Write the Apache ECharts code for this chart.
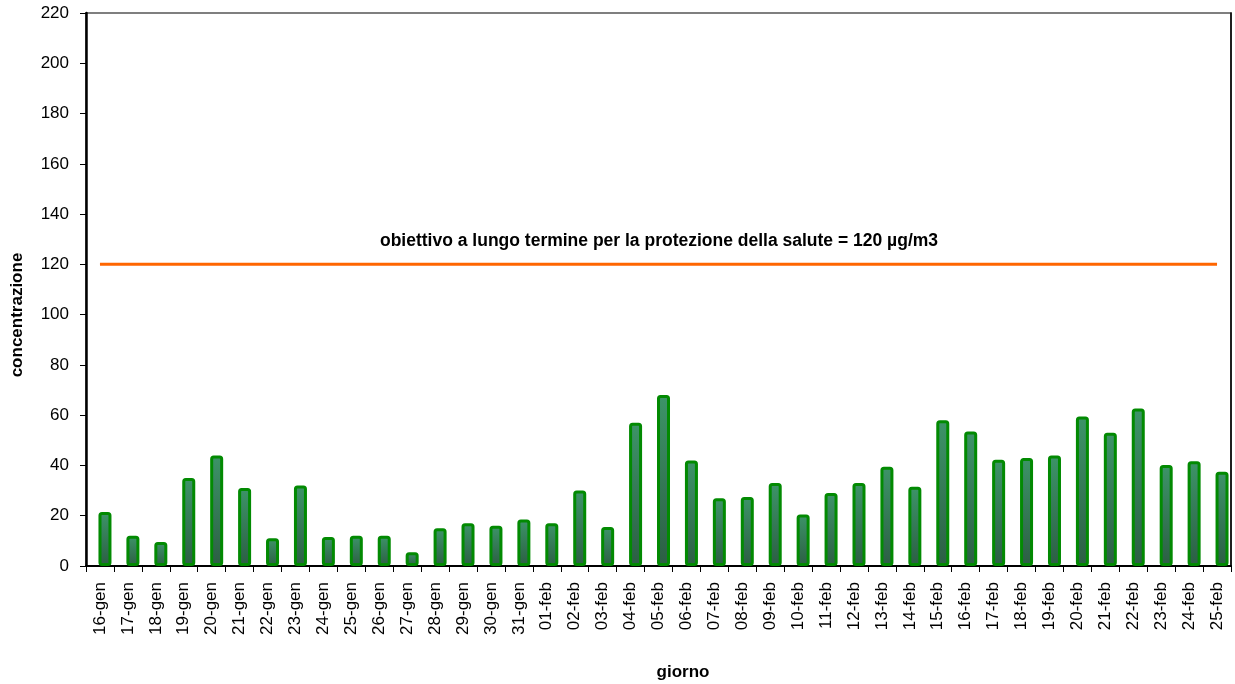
<!DOCTYPE html>
<html>
<head>
<meta charset="utf-8">
<script src="https://cdn.jsdelivr.net/npm/echarts@6/dist/echarts.min.js"></script>
<style>
  html, body { margin: 0; padding: 0; background: #fff; }
  #chart { width: 1235px; height: 684px; }
</style>
</head>
<body>
<div id="chart"></div>
<script>
// giorni
var days = ['16-gen','17-gen','18-gen','19-gen','20-gen','21-gen','22-gen','23-gen','24-gen','25-gen',
    '26-gen','27-gen','28-gen','29-gen','30-gen','31-gen','01-feb','02-feb','03-feb','04-feb',
    '05-feb','06-feb','07-feb','08-feb','09-feb','10-feb','11-feb','12-feb','13-feb','14-feb',
    '15-feb','16-feb','17-feb','18-feb','19-feb','20-feb','21-feb','22-feb','23-feb','24-feb','25-feb'];
// concentrazione giornaliera
var conc = [21.5, 12, 9.5, 35, 44, 31, 11, 32, 11.5, 12,
    12, 5.5, 15, 17, 16, 18.5, 17, 30, 15.5, 57,
    68, 42, 27, 27.5, 33, 20.5, 29, 33, 39.5, 31.5,
    58, 53.5, 42.3, 43, 44, 59.5, 53, 62.7, 40.2, 41.7, 37.5];
var limit = 120;
var limit_arr = days.map(function () { return limit; });
var empty_arr = days.map(function () { return null; });
var y_ticks = [0, 220, 20];

var font = 'Liberation Sans, Arial, sans-serif';
var myChart = echarts.init(document.getElementById('chart'));
var option = {
    backgroundColor: '#fff',
    animation: false,
    grid: {
        left: 86,
        right: 4,
        top: 13,
        bottom: 118,
        show: true,
        borderColor: '#555',
        borderWidth: 1.5,
        backgroundColor: 'transparent'
    },
    xAxis: {
        type: 'category',
        data: days,
        boundaryGap: true,
        axisLine: { lineStyle: { color: '#000', width: 2 } },
        axisTick: { show: true, alignWithLabel: false, length: 6, lineStyle: { color: '#000', width: 1 } },
        axisLabel: {
            interval: 0,
            rotate: 90,
            margin: 16,
            color: '#000',
            fontSize: 17,
            fontFamily: font
        }
    },
    yAxis: [{
        type: 'value',
        min: y_ticks[0],
        max: y_ticks[1],
        interval: y_ticks[2],
        axisLine: { show: true, lineStyle: { color: '#000', width: 2.5 } },
        axisTick: { show: true, length: 6, lineStyle: { color: '#000', width: 1 } },
        splitLine: { show: false },
        axisLabel: {
            color: '#000',
            fontSize: 17,
            fontFamily: font,
            margin: 17
        }
    }, {
        type: 'value',
        position: 'right',
        min: y_ticks[0],
        max: y_ticks[1],
        interval: y_ticks[2],
        axisLine: { show: true, lineStyle: { color: '#000', width: 1.5 } },
        axisTick: { show: false },
        axisLabel: { show: false },
        splitLine: { show: false }
    }],
    series: [{
        // posto vuoto: sposta le barre a destra come nell'originale
        type: 'bar',
        data: empty_arr,
        barWidth: 13,
        silent: true
    }, {
        type: 'bar',
        data: conc,
        barWidth: 13,
        barGap: '-23%',
        itemStyle: {
            color: new echarts.graphic.LinearGradient(0, 0, 0, 1, [
                { offset: 0, color: '#3d9468' },
                { offset: 1, color: '#2c5e44' }
            ]),
            borderColor: '#028a02',
            borderWidth: 3,
            borderRadius: 2
        }
    }, {
        type: 'line',
        data: limit_arr,
        symbol: 'none',
        lineStyle: { color: '#ff6600', width: 3 },
        z: 5
    }],
    graphic: [{
        type: 'text',
        x: 659,
        y: 241,
        style: {
            text: 'obiettivo a lungo termine per la protezione della salute = 120 µg/m3',
            fontSize: 17.5,
            fontWeight: 'bold',
            fontFamily: font,
            fill: '#000',
            align: 'center',
            verticalAlign: 'middle'
        }
    }, {
        type: 'text',
        x: 17,
        y: 315,
        rotation: Math.PI / 2,
        style: {
            text: 'concentrazione',
            fontSize: 17,
            fontWeight: 'bold',
            fontFamily: font,
            fill: '#000',
            align: 'center',
            verticalAlign: 'middle'
        }
    }, {
        type: 'text',
        x: 683,
        y: 672,
        style: {
            text: 'giorno',
            fontSize: 17,
            fontWeight: 'bold',
            fontFamily: font,
            fill: '#000',
            align: 'center',
            verticalAlign: 'middle'
        }
    }]
};
myChart.setOption(option);
</script>
</body>
</html>
